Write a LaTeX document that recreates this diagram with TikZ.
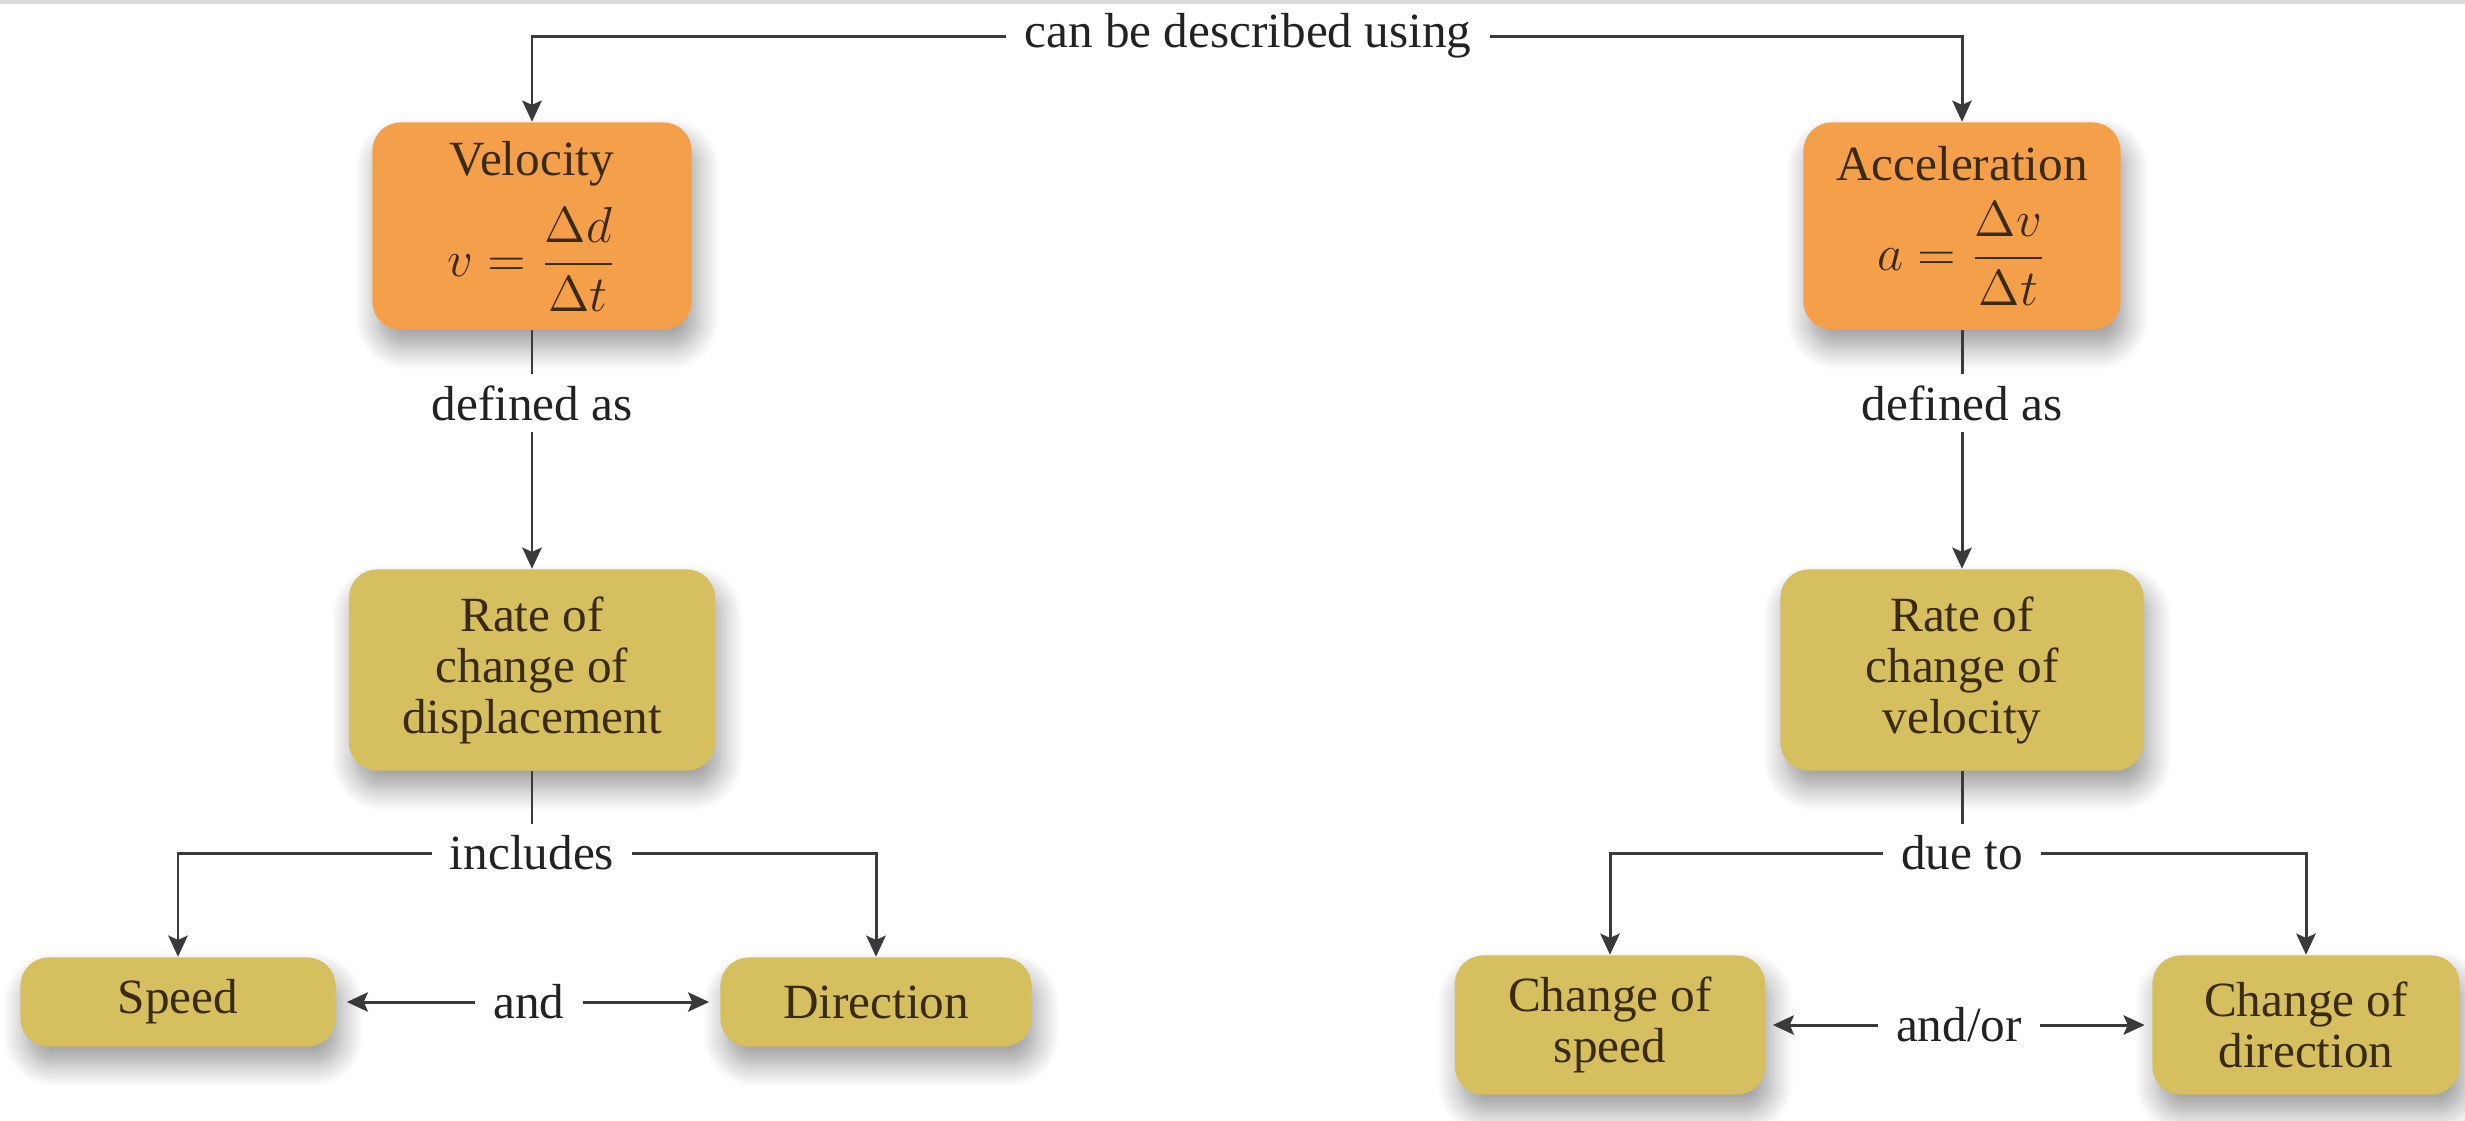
\documentclass[tikz,border=0pt]{standalone}
\usepackage{amsmath}
\usepackage{fontspec}
\setmainfont{Liberation Serif}
\usetikzlibrary{arrows.meta,shadows.blur}
\definecolor{orangefill}{HTML}{F4A04A}
\definecolor{olivefill}{HTML}{D5BF5F}
\definecolor{boxtext}{HTML}{3A2A10}
\definecolor{labeltext}{HTML}{222222}
\definecolor{linecol}{HTML}{3A3A3A}
\tikzset{
  basebox/.style={rounded corners=8pt, align=center, text=boxtext, inner sep=0pt,
    blur shadow={shadow xshift=1.5pt, shadow yshift=-5pt, shadow blur radius=6.5pt,
      shadow blur steps=12, shadow opacity=40}},
  obox/.style={basebox, fill=orangefill},
  ybox/.style={basebox, fill=olivefill},
  lbl/.style={text=labeltext, inner xsep=5pt, inner ysep=3pt},
  conn/.style={draw=linecol, line width=0.85pt},
  arr/.style={conn, -{Stealth[length=6pt,width=5.5pt,inset=1.2pt]}},
}
\begin{document}
\begin{tikzpicture}[x=0.01cm, y=-0.01cm, font=\fontsize{14}{14.5}\selectfont]
\useasboundingbox (0,0) rectangle (2465,1120);
\fill[gray!30] (0,0) rectangle (2465,4);

% boxes
\node[obox, minimum width=3.19cm, minimum height=2.07cm] (vel) at (532,226)
  {Velocity\\[5pt] $v=\dfrac{\Delta d}{\Delta t}$};
\node[obox, minimum width=3.17cm, minimum height=2.07cm] (acc) at (1962,226)
  {Acceleration\\[5pt] $a=\dfrac{\Delta v}{\Delta t}$};
\node[ybox, minimum width=3.66cm, minimum height=2.01cm] (rd) at (532,670)
  {Rate of\\change of\\displacement};
\node[ybox, minimum width=3.63cm, minimum height=2.01cm] (rv) at (1962,670)
  {Rate of\\change of\\velocity};
\node[ybox, minimum width=3.15cm, minimum height=0.89cm] (speed) at (178,1002) {Speed};
\node[ybox, minimum width=3.11cm, minimum height=0.89cm] (dir) at (876,1002) {Direction};
\node[ybox, minimum width=3.10cm, minimum height=1.39cm] (cs) at (1610,1025) {Change of\\speed};
\node[ybox, minimum width=3.07cm, minimum height=1.39cm] (cd) at (2306,1025) {Change of\\direction};

% labels
\node[lbl] (top) at (1248,36) {can be described using};
\node[lbl] (def1) at (532,403) {defined as};
\node[lbl] (def2) at (1962,403) {defined as};
\node[lbl] (incl) at (532,853) {includes};
\node[lbl] (due) at (1962,853) {due to};
\node[lbl] (and1) at (529,1002) {and};
\node[lbl] (and2) at (1959,1025) {and/or};

% connectors
\draw[arr] (top.west) -| (vel.north);
\draw[arr] (top.east) -| (acc.north);
\draw[conn] (vel.south) -- (def1.north);
\draw[arr] (def1.south) -- (rd.north);
\draw[conn] (acc.south) -- (def2.north);
\draw[arr] (def2.south) -- (rv.north);
\draw[conn] (rd.south) -- (incl.north);
\draw[arr] (incl.west) -| (speed.north);
\draw[arr] (incl.east) -| (dir.north);
\draw[conn] (rv.south) -- (due.north);
\draw[arr] (due.west) -| (cs.north);
\draw[arr] (due.east) -| (cd.north);
\draw[arr, shorten >=3pt] (and1.west) -- (speed.east);
\draw[arr, shorten >=3pt] (and1.east) -- (dir.west);
\draw[arr, shorten >=2pt] (and2.west) -- (cs.east);
\draw[arr, shorten >=2pt] (and2.east) -- (cd.west);
\end{tikzpicture}
\end{document}
